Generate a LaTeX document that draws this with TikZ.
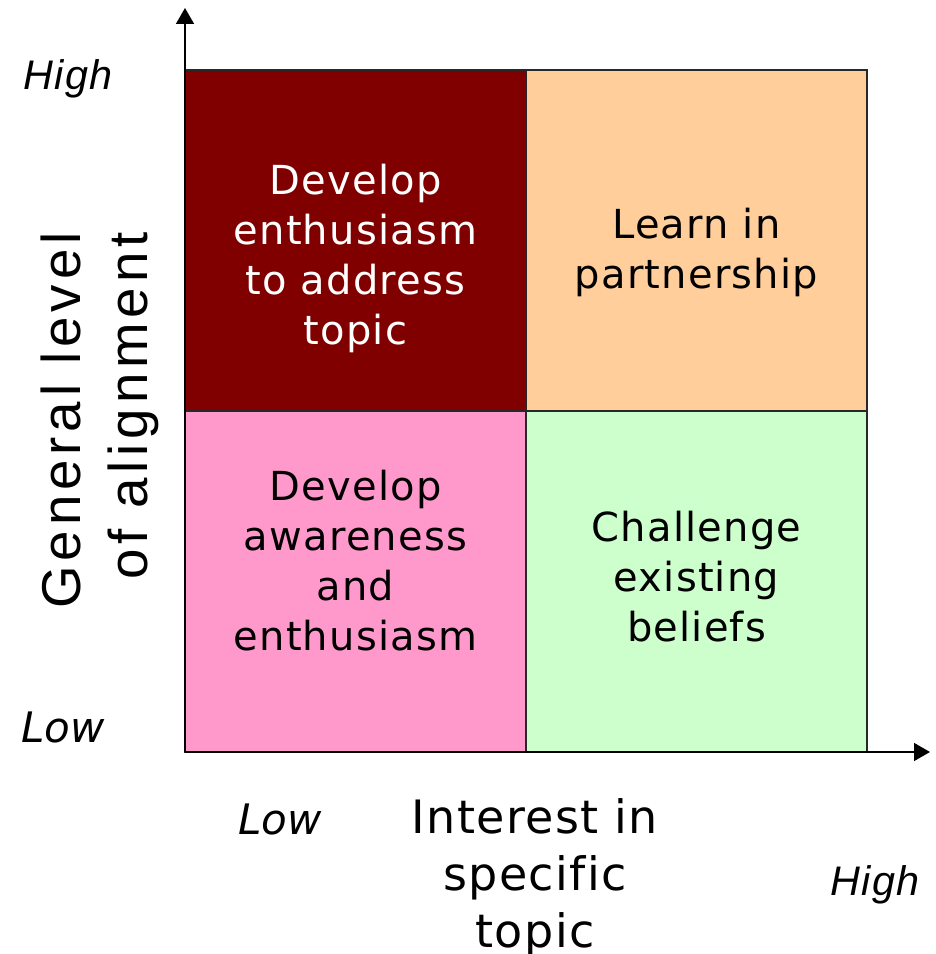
\documentclass[tikz,border=0pt]{standalone}
\usepackage{fontspec}
\setmainfont{DejaVu Sans}
\newfontfamily\cellfont{DejaVu Sans}[LetterSpace=3, Ligatures=NoCommon]
\newfontfamily\alignfont{Liberation Sans}[LetterSpace=9, Ligatures=NoCommon]
\newfontfamily\interestfont{DejaVu Sans}[LetterSpace=3, Ligatures=NoCommon]
\newfontfamily\highfont{Liberation Sans}[LetterSpace=4]
\newfontfamily\lowfont{DejaVu Sans}
\usepackage{xcolor}
\definecolor{cellred}{RGB}{128,0,0}
\definecolor{cellpeach}{RGB}{255,206,155}
\definecolor{cellpink}{RGB}{255,153,204}
\definecolor{cellgreen}{RGB}{204,255,204}
\definecolor{cellline}{RGB}{40,40,40}
\usetikzlibrary{arrows.meta}

\tikzset{
  cell/.style={draw=cellline, line width=0.8pt, minimum width=255.75pt,
    minimum height=255.75pt, inner sep=0pt},
  celltext/.style={align=center, inner sep=0pt,
    font=\cellfont\fontsize{30}{37.5}\selectfont},
  axis/.style={line width=1.1pt, -{Triangle[length=12pt,width=13.5pt]}},
  highlabel/.style={anchor=base, inner sep=0pt,
    font=\highfont\itshape\fontsize{31}{37}\selectfont},
  lowlabel/.style={anchor=base, inner sep=0pt,
    font=\lowfont\itshape\fontsize{31.5}{37}\selectfont}
}

\begin{document}
\begin{tikzpicture}[x=0.75pt, y=0.75pt]
\useasboundingbox (0,0) rectangle (936,954);

% the four quadrants
\node[cell, fill=cellred]   (enthcell)  at (355.5,713.5) {};
\node[cell, fill=cellpeach] (learncell) at (696.5,713.5) {};
\node[cell, fill=cellpink]  (awarecell) at (355.5,372.5) {};
\node[cell, fill=cellgreen] (chalcell)  at (696.5,372.5) {};

\node[celltext, text=white] (enthtext)  at (355.5,696)   {Develop\\enthusiasm\\to address\\topic};
\node[celltext]             (learntext) at (696.5,702)   {Learn in\\partnership};
\node[celltext]             (awaretext) at (355.5,393)   {Develop\\awareness\\and\\enthusiasm};
\node[celltext]             (chaltext)  at (696.5,377.5) {Challenge\\existing\\beliefs};

% axes
\coordinate (origin) at (185,202);
\coordinate (ytip)   at (185,946);
\coordinate (xtip)   at (930,202);
\draw[axis] (origin) -- (ytip);
\draw[axis] (origin) -- (xtip);

% axis titles
\node[rotate=90, anchor=east, align=right, inner sep=0pt,
  font=\alignfont\fontsize{41}{50}\selectfont] (alignlabel) at (100,722)
  {General level\\of alignment};
\node[align=center, inner sep=0pt,
  font=\interestfont\fontsize{34.5}{42.75}\selectfont] (interestlabel) at (535,76)
  {Interest in\\specific\\topic};

% ends of the scales
\node[highlabel] (yhigh) at (68,864) {High};
\node[lowlabel]  (ylow)  at (63,211) {Low};
\node[lowlabel]  (xlow)  at (280,119) {Low};
\node[highlabel] (xhigh) at (875,58) {High};
\end{tikzpicture}
\end{document}
